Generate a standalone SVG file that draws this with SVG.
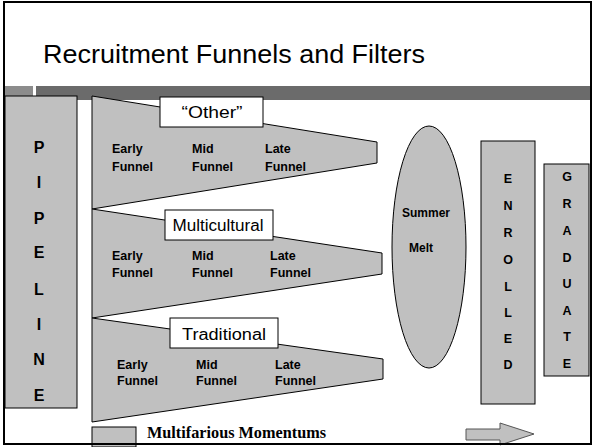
<svg xmlns="http://www.w3.org/2000/svg" width="592" height="447" viewBox="0 0 592 447">
<style>
.g{fill:#c0c0c0;stroke:#000;stroke-width:1}
.box{fill:#fff;stroke:#000;stroke-width:1}
.lt{font-family:"Liberation Sans",Arial,sans-serif;font-weight:bold;font-size:12.5px;fill:#000}
.lb{font-family:"Liberation Sans",Arial,sans-serif;font-size:16px;fill:#000;text-anchor:middle}
.vl{font-family:"Liberation Sans",Arial,sans-serif;font-weight:bold;text-anchor:middle;fill:#000}
</style>
<rect x="0" y="0" width="592" height="447" fill="#fff"/>
<g id="title">
<text x="43" y="63" font-family="Liberation Sans,Arial,sans-serif" font-size="26" textLength="382" lengthAdjust="spacingAndGlyphs">Recruitment Funnels and Filters</text>
</g>
<g id="bar">
<rect x="4" y="86" width="29" height="14" fill="#8c8c8c"/>
<rect x="36" y="86" width="555" height="14" fill="#6b6b6b"/>
</g>
<g id="pipeline">
<rect class="g" x="5" y="96" width="72" height="312"/>
<g class="vl" font-size="16">
<text x="39" y="153">P</text>
<text x="39" y="188">I</text>
<text x="39" y="224">P</text>
<text x="39" y="258">E</text>
<text x="39" y="295">L</text>
<text x="39" y="330">I</text>
<text x="39" y="365">N</text>
<text x="39" y="401">E</text>
</g>
</g>
<g id="funnel-other">
<polygon class="g" points="92,96 377,142 377,163 92,209"/>
<rect class="box" x="160" y="97" width="103" height="30"/>
<text class="lb" x="212" y="118" textLength="61" lengthAdjust="spacingAndGlyphs">“Other”</text>
<text class="lt" x="112" y="153">Early</text><text class="lt" x="112" y="171">Funnel</text>
<text class="lt" x="192" y="153">Mid</text><text class="lt" x="192" y="171">Funnel</text>
<text class="lt" x="265" y="153">Late</text><text class="lt" x="265" y="171">Funnel</text>
</g>
<g id="funnel-multicultural">
<polygon class="g" points="92,209 382,253 382,274 92,318"/>
<rect class="box" x="165" y="210" width="108" height="30"/>
<text class="lb" x="218" y="231" textLength="91" lengthAdjust="spacingAndGlyphs">Multicultural</text>
<text class="lt" x="112" y="260">Early</text><text class="lt" x="112" y="277">Funnel</text>
<text class="lt" x="192" y="260">Mid</text><text class="lt" x="192" y="277">Funnel</text>
<text class="lt" x="270" y="260">Late</text><text class="lt" x="270" y="277">Funnel</text>
</g>
<g id="funnel-traditional">
<polygon class="g" points="92,318 383,359 383,379 92,422"/>
<rect class="box" x="170" y="318" width="108" height="30"/>
<text class="lb" x="224" y="340" textLength="84" lengthAdjust="spacingAndGlyphs">Traditional</text>
<text class="lt" x="117" y="369">Early</text><text class="lt" x="117" y="385">Funnel</text>
<text class="lt" x="196" y="369">Mid</text><text class="lt" x="196" y="385">Funnel</text>
<text class="lt" x="275" y="369">Late</text><text class="lt" x="275" y="385">Funnel</text>
</g>
<g id="summer-melt">
<ellipse class="g" cx="429" cy="247" rx="37" ry="121"/>
<text class="vl" font-size="12" x="426" y="217">Summer</text>
<text class="vl" font-size="12" x="421" y="252">Melt</text>
</g>
<g id="enrolled">
<rect class="g" x="481" y="141" width="54" height="263"/>
<g class="vl" font-size="12.5">
<text x="508" y="183">E</text>
<text x="508" y="210">N</text>
<text x="508" y="237">R</text>
<text x="508" y="264">O</text>
<text x="508" y="291">L</text>
<text x="508" y="317">L</text>
<text x="508" y="343">E</text>
<text x="508" y="369">D</text>
</g>
</g>
<g id="graduate">
<rect class="g" x="544" y="164" width="45" height="212"/>
<g class="vl" font-size="12.5">
<text x="567" y="181">G</text>
<text x="567" y="208">R</text>
<text x="567" y="235">A</text>
<text x="567" y="262">D</text>
<text x="567" y="288">U</text>
<text x="567" y="315">A</text>
<text x="567" y="341">T</text>
<text x="567" y="368">E</text>
</g>
</g>
<g id="connectors">
<polygon points="466,429 500,429 500,423 534,434 500,445 500,440 466,440" fill="#c0c0c0" stroke="#555" stroke-width="1"/>
</g>
<g id="legend">
<rect class="g" x="92" y="427" width="44" height="20"/>
<text x="147" y="438" font-family="Liberation Serif,Times New Roman,serif" font-weight="bold" font-size="16" textLength="179" lengthAdjust="spacingAndGlyphs">Multifarious Momentums</text>
</g>
<rect x="4" y="2" width="587" height="442" fill="none" stroke="#000" stroke-width="2"/>
</svg>
